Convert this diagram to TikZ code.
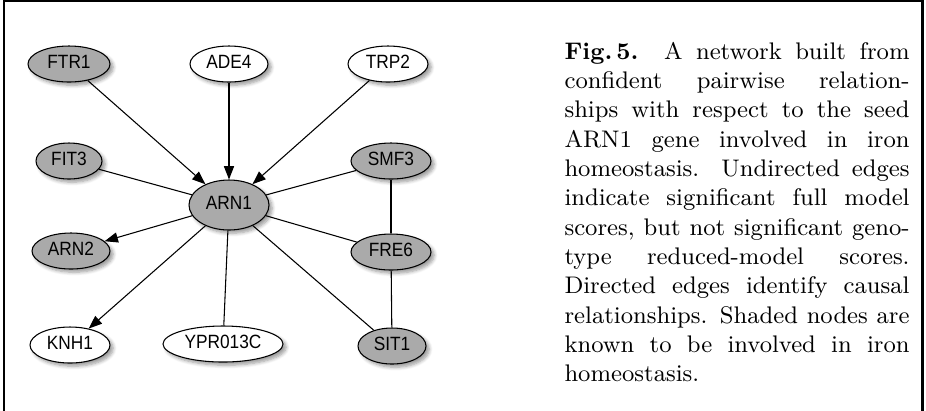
\documentclass[tikz,border=0pt]{standalone}
\usepackage{fontspec}
\newfontfamily\nodefont[FakeStretch=0.9]{Liberation Sans}
\usetikzlibrary{arrows.meta,shapes.geometric,shadows.blur}
\definecolor{shade}{RGB}{170,170,170}
\tikzset{
  gene/.style={ellipse, draw=black, line width=0.4pt, inner sep=0pt,
    minimum height=13.5pt, text height=5.2pt, text depth=1.5pt,
    font=\nodefont\fontsize{7.2}{8}\selectfont,
    blur shadow={shadow xshift=1.2pt, shadow yshift=-1.2pt, shadow blur steps=6, shadow opacity=40, shadow blur radius=1.3pt}},
  known/.style={gene, fill=shade},
  unknown/.style={gene, fill=white},
  edge/.style={line width=0.4pt, draw=black},
  arc/.style={edge, -{Triangle[length=5pt,width=3.8pt]}},
}
\begin{document}
\begin{tikzpicture}[x=0.375pt,y=-0.375pt]
\useasboundingbox (0,0) rectangle (926,410);
\clip (0,0) rectangle (926,410);
\draw[line width=0.85pt] (4,1.2) rectangle (922.5,430);
% nodes
\node[known,   minimum width=30.75pt] (ftr1) at (69,64)  {FTR1};
\node[unknown, minimum width=29.25pt] (ade4) at (229,64) {ADE4};
\node[unknown, minimum width=30pt]    (trp2) at (388,64) {TRP2};
\node[known,   minimum width=24.75pt] (fit3) at (69,161) {FIT3};
\node[known,   minimum width=30pt]    (smf3) at (391,161) {SMF3};
\node[known,   minimum width=30pt, minimum height=18.75pt] (arn1) at (229,205) {ARN1};
\node[known,   minimum width=29.25pt] (arn2) at (71,251) {ARN2};
\node[known,   minimum width=30pt]    (fre6) at (391,252) {FRE6};
\node[unknown, minimum width=30pt]    (knh1) at (70,345) {KNH1};
\node[unknown, minimum width=45pt]    (ypr) at (223,344) {YPR013C};
\node[known,   minimum width=25.5pt]  (sit1) at (392,346) {SIT1};
% edges
\draw[arc] (ftr1) -- (arn1);
\draw[arc] (ade4) -- (arn1);
\draw[arc] (trp2) -- (arn1);
\draw[edge] (fit3) -- (arn1);
\draw[edge] (smf3) -- (arn1);
\draw[arc] (arn1) -- (arn2);
\draw[edge] (arn1) -- (fre6);
\draw[arc] (arn1) -- (knh1);
\draw[edge] (arn1) -- (ypr);
\draw[edge] (arn1) -- (sit1);
\draw[edge] (smf3) -- (fre6);
\draw[edge] (fre6) -- (sit1);
% caption
\node[anchor=north west, inner sep=0pt, text width=129.4pt, align=justify,
      font=\fontsize{9}{11}\selectfont] (cap) at (564,41.5)
{\textbf{Fig.\,5.}\enspace\ A network built from confident pairwise relation-\linebreak ships with respect to the seed ARN1 gene involved in iron homeostasis. Undirected edges indicate significant full model scores, but not significant geno-\linebreak type reduced-model scores. Directed edges identify causal relationships. Shaded nodes are known to be involved in iron homeostasis.};
\end{tikzpicture}
\end{document}
